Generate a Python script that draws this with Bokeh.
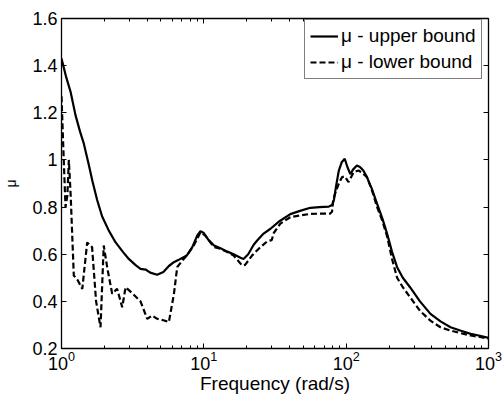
from bokeh.plotting import figure
from bokeh.models import (LinearAxis, FixedTicker, LogTickFormatter,
                          CustomJSTickFormatter, Range1d, Legend, LegendItem)
from bokeh.embed import file_html
from bokeh.resources import INLINE

# ---- data ----
freq_upper = [1.0, 1.08, 1.157, 1.254, 1.35, 1.434, 1.555, 1.65, 1.78, 1.93, 2.15, 2.4, 2.7,
              2.97, 3.3, 3.59, 3.9, 4.2, 4.7, 5.2, 5.68, 6.16, 6.6, 7.1, 7.6, 8.3, 9.0, 9.47,
              10.0, 10.8, 11.8, 13.1, 14.5, 16.2, 18.1, 19.0, 20.5, 22.4, 23.7, 26, 29.4, 34,
              40.5, 48, 56, 65, 75.5, 80, 82, 85, 88.8, 93, 97.7, 102, 107, 112, 119, 125, 132,
              140, 152, 165, 180, 194, 210, 228, 250, 281, 330, 391, 460, 541, 640, 750, 870, 1000]
mu_upper = [1.43, 1.35, 1.29, 1.19, 1.12, 1.07, 0.98, 0.91, 0.83, 0.76, 0.70, 0.65, 0.61,
            0.58, 0.555, 0.538, 0.535, 0.522, 0.513, 0.525, 0.55, 0.566, 0.575, 0.585, 0.595, 0.63, 0.68, 0.698,
            0.69, 0.66, 0.637, 0.625, 0.612, 0.60, 0.585, 0.58, 0.60, 0.64, 0.658, 0.685, 0.708, 0.74,
            0.77, 0.785, 0.797, 0.80, 0.802, 0.81, 0.83, 0.89, 0.955, 0.99, 1.005, 0.97, 0.94, 0.96, 0.976, 0.97, 0.955,
            0.927, 0.875, 0.814, 0.75, 0.687, 0.61, 0.545, 0.50, 0.46, 0.40, 0.347, 0.315, 0.29, 0.275, 0.262, 0.254, 0.245]

freq_lower = [1.0, 1.03, 1.067, 1.1, 1.126, 1.16, 1.22, 1.3, 1.40, 1.515, 1.64, 1.75, 1.88, 1.98,
              2.1, 2.27, 2.46, 2.67, 2.82, 3.2, 3.59, 4.0, 4.34, 4.7, 5.2, 5.68, 6.16, 6.5, 7.05,
              7.6, 8.5, 9.47, 10.2, 11.8, 13.1, 14.5, 16.2, 18.6, 19.5, 21.8, 24, 27.9, 30, 31,
              34.5, 40.5, 48, 56, 65, 77, 79.5, 81, 85, 88.8, 93.5, 97.7, 104, 113, 122, 130, 140,
              152, 165, 180, 194, 210, 228, 250, 281, 330, 391, 460, 541, 640, 750, 870, 1000]
mu_lower = [1.27, 1.05, 0.80, 0.85, 1.0, 0.85, 0.51, 0.49, 0.453, 0.65, 0.63, 0.40, 0.29, 0.637,
            0.54, 0.432, 0.453, 0.375, 0.46, 0.43, 0.40, 0.326, 0.34, 0.326, 0.32, 0.312, 0.43, 0.545, 0.573,
            0.595, 0.637, 0.693, 0.68, 0.63, 0.623, 0.61, 0.594, 0.552, 0.555, 0.594, 0.62, 0.655, 0.66, 0.69,
            0.73, 0.757, 0.765, 0.771, 0.772, 0.772, 0.78, 0.83, 0.87, 0.90, 0.927, 0.93, 0.906, 0.948, 0.955, 0.945, 0.927,
            0.87, 0.80, 0.74, 0.675, 0.58, 0.50, 0.46, 0.418, 0.36, 0.318, 0.29, 0.276, 0.265, 0.255, 0.249, 0.242]

x_major = [1, 10, 100, 1000]
x_minor = [m * d for d in (1, 10, 100) for m in range(2, 10)]
y_ticks = [0.2, 0.4, 0.6, 0.8, 1, 1.2, 1.4, 1.6]
x_label = "Frequency (rad/s)"
y_label = "μ"
labels = ["μ - upper bound", "μ - lower bound"]

FONT = "Liberation Sans"

p = figure(width=503, height=396, x_axis_type="log",
           x_range=Range1d(1, 1000), y_range=Range1d(0.2, 1.6),
           output_backend="svg", toolbar_location=None,
           min_border_left=61, min_border_right=15, min_border_top=18, min_border_bottom=48)
p.xgrid.visible = False
p.ygrid.visible = False
p.outline_line_color = "black"
p.outline_line_width = 1
p.background_fill_color = "white"
p.border_fill_color = "white"

xt = FixedTicker(ticks=x_major, minor_ticks=x_minor)
yt = FixedTicker(ticks=y_ticks)

def style(ax):
    ax.axis_line_color = "black"
    ax.axis_line_width = 1.3
    ax.major_tick_in = 5
    ax.major_tick_out = 0
    ax.minor_tick_in = 3
    ax.minor_tick_out = 0
    ax.major_tick_line_color = "black"
    ax.minor_tick_line_color = "black"
    ax.major_label_text_font = FONT
    ax.major_label_text_color = "black"
    ax.major_label_text_font_size = "18px"
    ax.axis_label_text_color = "black"

xa = p.xaxis[0]
xa.ticker = xt
xa.formatter = LogTickFormatter()
style(xa)
xa.major_label_standoff = 2
xa.axis_label = x_label
xa.axis_label_text_font = FONT
xa.axis_label_text_font_size = "19px"
xa.axis_label_text_font_style = "normal"
xa.axis_label_standoff = 0

ya = p.yaxis[0]
ya.ticker = yt
ya.formatter = CustomJSTickFormatter(code="return String(tick)")
style(ya)
ya.major_label_standoff = 4
ya.axis_label = y_label
ya.axis_label_text_font = FONT
ya.axis_label_text_font_size = "14px"
ya.axis_label_text_font_style = "normal"
ya.axis_label_standoff = 10

top = LinearAxis(ticker=xt, formatter=CustomJSTickFormatter(code="return ' '"))
style(top)
top.major_label_text_font_size = "1px"
top.major_label_standoff = 0
p.add_layout(top, "above")
right = LinearAxis(ticker=yt, formatter=CustomJSTickFormatter(code="return ' '"))
style(right)
right.major_label_text_font_size = "1px"
right.major_label_standoff = 0
p.add_layout(right, "right")

r1 = p.line(freq_upper, mu_upper, line_color="black", line_width=2.2)
r2 = p.line(freq_lower, mu_lower, line_color="black", line_width=2.2, line_dash="6 3")

leg = Legend(items=[LegendItem(label=labels[0], renderers=[r1]),
                    LegendItem(label=labels[1], renderers=[r2])],
             location=(243, 269))
leg.border_line_color = "black"
leg.border_line_width = 1
leg.background_fill_color = "white"
leg.background_fill_alpha = 1
leg.label_text_font = FONT
leg.label_text_font_size = "19px"
leg.label_text_color = "black"
leg.glyph_width = 28
leg.glyph_height = 22
leg.label_standoff = 3
leg.padding = 5
leg.spacing = 4
leg.margin = 0
p.add_layout(leg)

open("out.html", "w").write(file_html(p, INLINE))
